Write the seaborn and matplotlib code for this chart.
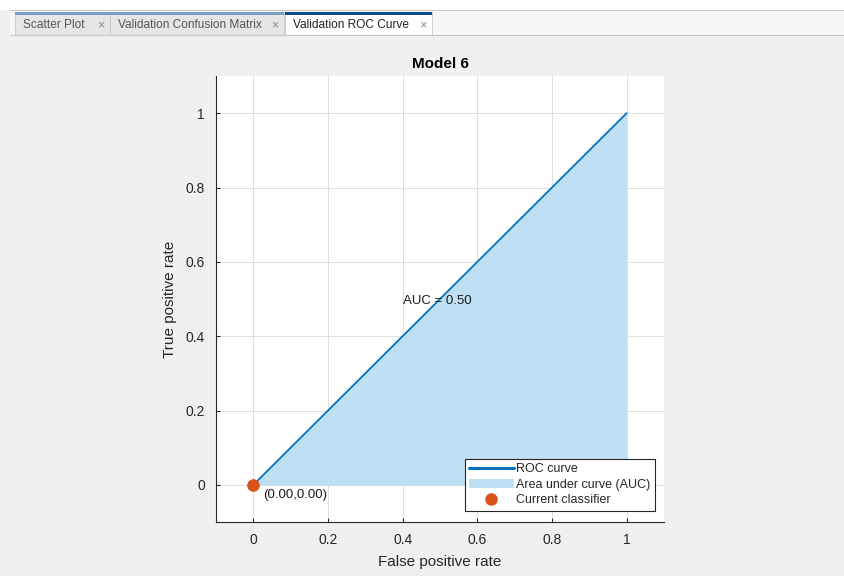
import matplotlib
matplotlib.use("Agg")
import matplotlib.pyplot as plt
import matplotlib.patches as mpatches
from matplotlib.lines import Line2D
import seaborn as sns
import pandas as pd

# Data
fpr = [0.0, 1.0]
tpr = [0.0, 1.0]
auc_value = 0.50
current_fpr = [0.0]
current_tpr = [0.0]
tab_labels = ["Scatter Plot", "Validation Confusion Matrix", "Validation ROC Curve"]
ticks = [0, 0.2, 0.4, 0.6, 0.8, 1]
tick_labels = ["0", "0.2", "0.4", "0.6", "0.8", "1"]

sns.set_theme(style="whitegrid")
plt.rcParams['font.family'] = ['Liberation Sans', 'DejaVu Sans']

W, H = 844, 576
fig = plt.figure(figsize=(W / 100, H / 100), dpi=100)
fig.patch.set_facecolor("#f0f0f0")

def fx(x):
    return x / W

def fy(y):
    return 1 - y / H

# top white strip and tab bar
fig.add_artist(mpatches.Rectangle((0, fy(10)), 1, 10 / H, transform=fig.transFigure,
                                  facecolor="white", edgecolor="none"))
fig.add_artist(mpatches.Rectangle((fx(10), fy(35)), 1, 25 / H, transform=fig.transFigure,
                                  facecolor="#f7f7f7", edgecolor="none"))
fig.add_artist(Line2D([fx(10), 1], [fy(35), fy(35)], transform=fig.transFigure,
                      color="#c8c8c8", lw=0.8))
fig.add_artist(Line2D([fx(10), 1], [fy(10), fy(10)], transform=fig.transFigure,
                      color="#c8c8c8", lw=0.8))
tabs = [(15, 110, False), (110, 284, False), (285, 432, True)]
for (x0, x1, active), lab in zip(tabs, tab_labels):
    fig.add_artist(mpatches.Rectangle((fx(x0), fy(35)), (x1 - x0) / W, 23 / H,
                                      transform=fig.transFigure,
                                      facecolor="white" if active else "#e6e6e6",
                                      edgecolor="#c8c8c8", lw=0.6))
    fig.add_artist(mpatches.Rectangle((fx(x0), fy(15)), (x1 - x0) / W, 3 / H,
                                      transform=fig.transFigure,
                                      facecolor="#0b4a8c" if active else "#7f9cc4",
                                      edgecolor="none"))
    fig.text(fx(x0 + 8), fy(25), lab, fontsize=8.6,
             color="#222222" if active else "#555555", va="center", ha="left")
    fig.text(fx(x1 - 6), fy(25), "\u00d7", fontsize=9, color="#888888",
             va="center", ha="right")

# axes
ax = fig.add_axes([216 / W, (H - 522) / H, 448 / W, 446 / H])
ax.set_facecolor("white")

df_curve = pd.DataFrame({"fpr": fpr, "tpr": tpr})
ax.fill_between(fpr, tpr, 0, color="#bfdff2", lw=0, zorder=1)
sns.lineplot(data=df_curve, x="fpr", y="tpr", ax=ax, color="#0072bd", lw=1.3,
             zorder=3, legend=False)
df_pt = pd.DataFrame({"fpr": current_fpr, "tpr": current_tpr})
sns.scatterplot(data=df_pt, x="fpr", y="tpr", ax=ax, color="#d95319", s=70,
                edgecolor="#d95319", zorder=5, legend=False, clip_on=False)

ax.text(0.40, 0.495, f"AUC = {auc_value:.2f}", fontsize=9.5, ha="left", va="center",
        color="#1a1a1a", zorder=6)
ax.text(current_fpr[0] + 0.027, current_tpr[0] - 0.012,
        f"({current_fpr[0]:.2f},{current_tpr[0]:.2f})", fontsize=9.5,
        ha="left", va="top", color="#1a1a1a", zorder=6)

ax.set_xlim(-0.1, 1.1)
ax.set_ylim(-0.1, 1.1)
ax.set_xticks(ticks)
ax.set_xticklabels(tick_labels)
ax.set_yticks(ticks)
ax.set_yticklabels(tick_labels)
ax.grid(True, color="#dfdfdf", lw=0.7)
ax.set_axisbelow(True)
for s in ["top", "right"]:
    ax.spines[s].set_visible(False)
for s in ["left", "bottom"]:
    ax.spines[s].set_color("#262626")
    ax.spines[s].set_linewidth(0.8)
ax.tick_params(axis="both", which="both", direction="in", length=3, width=0.8,
               color="#262626", labelsize=10, labelcolor="#262626", pad=8,
               bottom=True, left=True)
ax.set_xlabel("False positive rate", fontsize=11, color="#262626", labelpad=6)
ax.set_ylabel("True positive rate", fontsize=11, color="#262626", labelpad=6)
ax.set_title("Model 6", fontsize=11, fontweight="bold", color="black", pad=6)

handles = [
    Line2D([0], [0], color="#0072bd", lw=2.2),
    mpatches.Patch(facecolor="#bfdff2", edgecolor="none"),
    Line2D([0], [0], marker="o", color="none", markerfacecolor="#d95319",
           markeredgecolor="#d95319", markersize=8),
]
labels = ["ROC curve", "Area under curve (AUC)", "Current classifier"]
leg = ax.legend(handles, labels, loc="lower right", bbox_to_anchor=(0.98, 0.025),
                fontsize=9, frameon=True, fancybox=False, framealpha=1,
                edgecolor="#262626", borderpad=0.35, labelspacing=0.28,
                handlelength=3.6, handletextpad=0.2, borderaxespad=0)
leg.get_frame().set_linewidth(0.8)

fig.savefig("out.png", dpi=100, facecolor=fig.get_facecolor())
